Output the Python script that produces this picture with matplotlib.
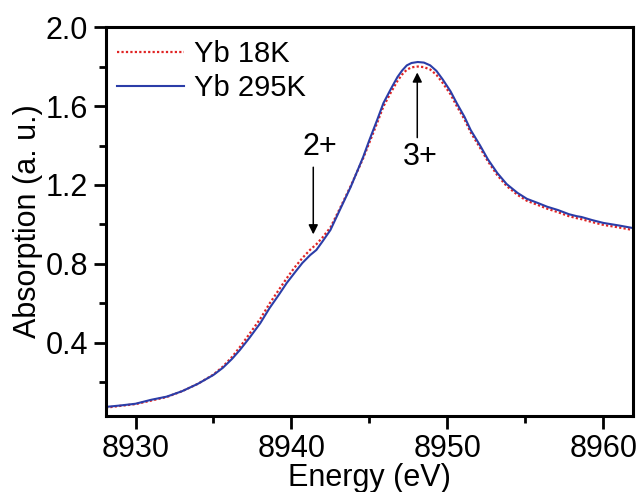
import matplotlib
matplotlib.use("Agg")
import matplotlib.pyplot as plt
from matplotlib.ticker import MultipleLocator

plt.rcParams['font.family'] = ['Liberation Sans', 'DejaVu Sans']

# energy grid (eV)
energy = [8928.1, 8929.0, 8930.0, 8931.0, 8932.0, 8933.0, 8934.0, 8935.0, 8935.6, 8936.2,
          8936.7, 8937.3, 8938.0, 8938.6, 8939.2, 8939.7, 8940.2, 8940.7, 8941.2, 8941.6,
          8942.0, 8942.5, 8943.1, 8943.8, 8944.6, 8945.0, 8945.5, 8945.9, 8946.4, 8946.8,
          8947.1, 8947.4, 8947.7, 8948.1, 8948.5, 8948.9, 8949.3, 8949.7, 8950.2, 8950.6,
          8951.1, 8951.5, 8952.1, 8952.6, 8953.2, 8953.8, 8954.5, 8955.1, 8955.8, 8956.4,
          8957.1, 8957.8, 8958.3, 8958.6, 8959.3, 8960.0, 8961.0, 8961.9]

# Yb 295K (solid blue)
abs_295k = [0.076, 0.083, 0.092, 0.112, 0.128, 0.156, 0.193, 0.238, 0.274, 0.320,
            0.365, 0.425, 0.500, 0.577, 0.645, 0.704, 0.755, 0.805, 0.845, 0.871,
            0.915, 0.972, 1.073, 1.190, 1.342, 1.428, 1.530, 1.615, 1.690, 1.747,
            1.780, 1.806, 1.818, 1.823, 1.820, 1.806, 1.778, 1.735, 1.675, 1.615,
            1.545, 1.478, 1.400, 1.330, 1.261, 1.205, 1.160, 1.130, 1.109, 1.090,
            1.073, 1.052, 1.042, 1.038, 1.022, 1.008, 0.995, 0.982]

# Yb 18K (dotted red)
abs_18k = [0.072, 0.081, 0.090, 0.108, 0.126, 0.156, 0.193, 0.240, 0.280, 0.330,
           0.380, 0.445, 0.522, 0.600, 0.670, 0.728, 0.782, 0.830, 0.872, 0.900,
           0.935, 0.985, 1.080, 1.195, 1.335, 1.415, 1.515, 1.598, 1.672, 1.727,
           1.760, 1.784, 1.796, 1.800, 1.797, 1.785, 1.758, 1.717, 1.660, 1.600,
           1.532, 1.466, 1.388, 1.320, 1.250, 1.195, 1.150, 1.120, 1.099, 1.080,
           1.062, 1.042, 1.032, 1.027, 1.012, 0.998, 0.985, 0.972]

x_ticks = [8930, 8940, 8950, 8960]
y_ticks = [0.4, 0.8, 1.2, 1.6, 2.0]

fig = plt.figure(figsize=(6.38, 4.92), dpi=100)
ax = fig.add_axes([0.166, 0.1545, 0.826, 0.7905])

ax.plot(energy, abs_18k, color="#e02424", linestyle=(0, (1, 1)), lw=1.6, label="Yb 18K")
ax.plot(energy, abs_295k, color="#2b3da8", lw=1.5, label="Yb 295K")

ax.set_xlim(8928.1, 8961.9)
ax.set_ylim(0.03, 2.0)
ax.set_xticks(x_ticks)
ax.set_yticks(y_ticks)
ax.set_yticklabels([f"{v:.1f}" for v in y_ticks])
ax.xaxis.set_minor_locator(MultipleLocator(5))
ax.yaxis.set_minor_locator(MultipleLocator(0.2))

for s in ax.spines.values():
    s.set_linewidth(2.2)
ax.tick_params(which="major", direction="out", length=9, width=2, labelsize=22, pad=4)
ax.tick_params(which="minor", direction="out", length=5, width=2)

ax.set_xlabel("Energy (eV)", fontsize=22, labelpad=-1)
ax.set_ylabel("Absorption (a. u.)", fontsize=22, labelpad=2)

# valence markers
arrow = dict(arrowstyle="-|>", color="black", lw=1.1, mutation_scale=14, shrinkA=0, shrinkB=0)
ax.annotate("", xy=(8941.4, 0.95), xytext=(8941.4, 1.29), arrowprops=arrow)
ax.text(8941.8, 1.39, "2+", fontsize=22, ha="center", va="center")
ax.annotate("", xy=(8948.07, 1.77), xytext=(8948.07, 1.44), arrowprops=arrow)
ax.text(8948.25, 1.34, "3+", fontsize=22, ha="center", va="center")

ax.legend(loc="upper left", frameon=False, fontsize=21, handlelength=2.3,
          handletextpad=0.35, labelspacing=0.2, borderaxespad=0.2,
          bbox_to_anchor=(-0.012, 1.012))

fig.savefig("out.png", dpi=100)
